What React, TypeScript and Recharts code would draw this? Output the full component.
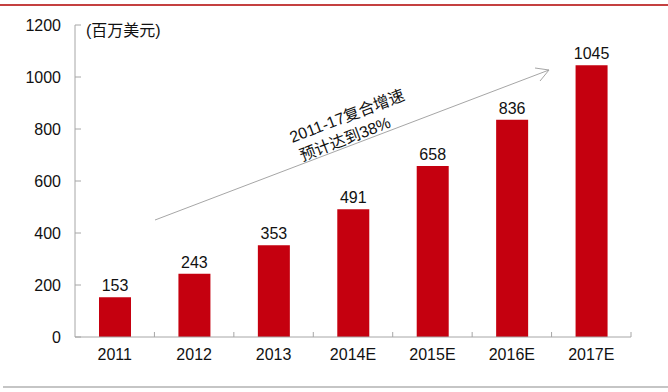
import React from "react";
import { BarChart, Bar, XAxis, YAxis, LabelList } from "recharts";

const years = ["2011", "2012", "2013", "2014E", "2015E", "2016E", "2017E"];
const revenue = [153, 243, 353, 491, 658, 836, 1045];
const yTicks = [0, 200, 400, 600, 800, 1000, 1200];

const unitLabel = "(百万美元)";
const noteLine1 = "2011-17复合增速";
const noteLine2 = "预计达到38%";

const data = years.map((year, i) => ({ year, value: revenue[i] }));

const FONT = "'Liberation Sans', Arial, 'Noto Sans CJK SC', sans-serif";
const BAR_RED = "#C5000F";
const AXIS_GREY = "#A6A6A6";

const W = 668;
const H = 392;
const M = { top: 25, right: 37, left: 0, bottom: 0 };
const Y_AXIS_W = 75;
const BAND = (W - M.left - M.right - Y_AXIS_W) / years.length;

// y ticks point inward, label sits left of the axis
const YTick = (props: any) => {
  const { x, y, payload } = props;
  return (
    <g>
      <line x1={x + 14} x2={x + 20} y1={y} y2={y} stroke={AXIS_GREY} />
      <text x={x} y={y} dy="0.35em" textAnchor="end" fontSize={16} fill="#111" fontFamily={FONT}>
        {payload.value}
      </text>
    </g>
  );
};

// x ticks sit between categories and point upward
const XTick = (props: any) => {
  const { x, y, payload } = props;
  return (
    <g>
      <line x1={x + BAND / 2} x2={x + BAND / 2} y1={y - 12} y2={y - 17} stroke={AXIS_GREY} />
      <text x={x} y={y} dy="0.71em" textAnchor="middle" fontSize={16} fill="#111" fontFamily={FONT}>
        {payload.value}
      </text>
    </g>
  );
};

export default function App() {
  return (
    <div style={{ position: "fixed", left: 0, top: 0, width: W, height: H, background: "#fff" }}>
      <BarChart width={W} height={H} data={data} margin={M}>
        <XAxis
          dataKey="year"
          tick={<XTick />}
          tickLine={false}
          tickSize={0}
          tickMargin={12}
          height={H - M.top - 312}
          axisLine={{ stroke: AXIS_GREY }}
        />
        <YAxis
          domain={[0, 1200]}
          ticks={yTicks}
          tick={<YTick />}
          tickLine={false}
          tickSize={0}
          tickMargin={14}
          width={Y_AXIS_W}
          axisLine={{ stroke: AXIS_GREY }}
        />
        <Bar dataKey="value" fill={BAR_RED} barSize={32} isAnimationActive={false}>
          <LabelList
            dataKey="value"
            position="top"
            offset={6}
            fontSize={16}
            fill="#111"
            fontFamily={FONT}
          />
        </Bar>
      </BarChart>
      <svg
        width={W}
        height={H}
        style={{ position: "absolute", left: 0, top: 0, pointerEvents: "none" }}
      >
        <line x1={0} x2={W} y1={5} y2={5} stroke="#B00000" strokeWidth={1.5} />
        <line x1={3} x2={W} y1={387} y2={387} stroke="#8C8C8C" strokeWidth={1.2} />
        <text x={86} y={30} dy="0.35em" fontSize={16} fill="#111" fontFamily={FONT}>
          {unitLabel}
        </text>
        <line x1={155} y1={220} x2={549} y2={70} stroke={AXIS_GREY} strokeWidth={1} />
        <polyline
          points="535,68 549,70 540,81"
          fill="none"
          stroke={AXIS_GREY}
          strokeWidth={1}
        />
        <g transform="rotate(-21 347 116)">
          <text x={347} y={116} dy="0.35em" textAnchor="middle" fontSize={16} fill="#111" fontFamily={FONT}>
            {noteLine1}
          </text>
        </g>
        <g transform="rotate(-21 345 139)">
          <text x={345} y={139} dy="0.35em" textAnchor="middle" fontSize={16} fill="#111" fontFamily={FONT}>
            {noteLine2}
          </text>
        </g>
      </svg>
    </div>
  );
}
